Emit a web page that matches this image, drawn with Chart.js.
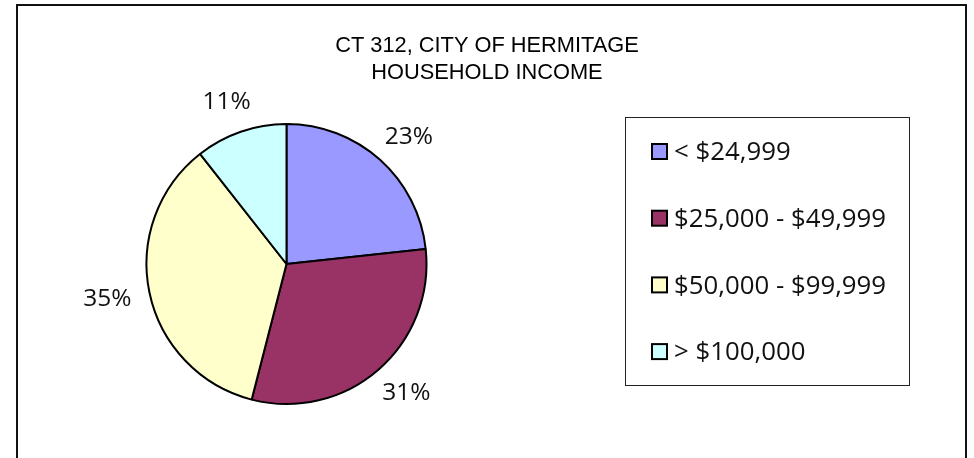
<!DOCTYPE html>
<html>
<head>
<meta charset="utf-8">
<script src="https://cdn.jsdelivr.net/npm/chart.js@4.4.1/dist/chart.umd.min.js"></script>
<style>
  html, body { margin: 0; padding: 0; background: #fff; }
  #wrap { width: 974px; height: 458px; }
</style>
</head>
<body>
<div id="wrap"><canvas id="income" width="974" height="458"></canvas></div>
<script>
// household income brackets, CT 312, City of Hermitage
const categories = ['< $24,999', '$25,000 - $49,999', '$50,000 - $99,999', '> $100,000'];
const shares = [23.3, 30.7, 35.4, 10.6];
const titleLines = ['CT 312, CITY OF HERMITAGE', 'HOUSEHOLD INCOME'];

const sliceColors = ['#9999FF', '#993366', '#FFFFCC', '#CCFFFF'];

// outer frame + two-line title centred on the whole chart object
const framePlugin = {
  id: 'frame',
  beforeDraw(chart) {
    const ctx = chart.ctx;
    ctx.save();
    ctx.fillStyle = '#fff';
    ctx.fillRect(0, 0, chart.width, chart.height);
    ctx.strokeStyle = '#111';
    ctx.lineWidth = 2;
    ctx.strokeRect(17, 5, 949, 470);
    ctx.font = '21.8px "Liberation Sans", Arial';
    ctx.fillStyle = '#000';
    ctx.textAlign = 'center';
    ctx.textBaseline = 'middle';
    titleLines.forEach((line, i) => ctx.fillText(line, 487, 46 + i * 27));
    ctx.restore();
  }
};

// percent labels outside each slice, box pushed out along the mid angle
const percentPlugin = {
  id: 'percents',
  afterDatasetsDraw(chart) {
    const ctx = chart.ctx;
    const meta = chart.getDatasetMeta(0);
    const data = chart.data.datasets[0].data;
    const total = data.reduce((a, b) => a + b, 0);
    const gap = 19;
    ctx.save();
    ctx.font = '24.5px "Open Sans"';
    ctx.fillStyle = '#111';
    ctx.textAlign = 'center';
    ctx.textBaseline = 'middle';
    meta.data.forEach((arc, i) => {
      const p = arc.getProps(['x', 'y', 'startAngle', 'endAngle', 'outerRadius'], true);
      const mid = (p.startAngle + p.endAngle) / 2;
      const txt = Math.round(data[i] / total * 100) + '%';
      const w = ctx.measureText(txt).width, h = 24;
      const dx = Math.cos(mid), dy = Math.sin(mid);
      const r = p.outerRadius + gap;
      ctx.fillText(txt, p.x + dx * (r + w / 2), p.y + dy * (r + h / 2));
    });
    ctx.restore();
  }
};

// boxed legend on the right
const legendPlugin = {
  id: 'boxLegend',
  afterDraw(chart) {
    const ctx = chart.ctx;
    const ds = chart.data.datasets[0];
    ctx.save();
    ctx.strokeStyle = '#222';
    ctx.lineWidth = 1;
    ctx.strokeRect(625.5, 117.5, 284, 268);
    ctx.font = '25.8px "Open Sans"';
    ctx.textBaseline = 'middle';
    chart.data.labels.forEach((lab, i) => {
      const cy = 152 + i * 66.7;
      ctx.fillStyle = ds.backgroundColor[i];
      ctx.fillRect(652, cy - 8, 15, 15);
      ctx.strokeStyle = '#000';
      ctx.lineWidth = 2;
      ctx.strokeRect(652, cy - 8, 15, 15);
      ctx.fillStyle = '#111';
      ctx.fillText(lab, 674, cy + 1);
    });
    ctx.restore();
  }
};

new Chart(document.getElementById('income'), {
  type: 'pie',
  data: {
    labels: categories,
    datasets: [{
      data: shares,
      backgroundColor: sliceColors,
      borderColor: '#000',
      borderWidth: 2,
      borderAlign: 'center'
    }]
  },
  options: {
    responsive: false,
    animation: false,
    radius: 140,
    layout: { padding: { left: 146, right: 547, top: 124, bottom: 54 } },
    plugins: {
      legend: { display: false },
      tooltip: { enabled: false },
      title: { display: false }
    }
  },
  plugins: [framePlugin, percentPlugin, legendPlugin]
});
</script>
</body>
</html>
